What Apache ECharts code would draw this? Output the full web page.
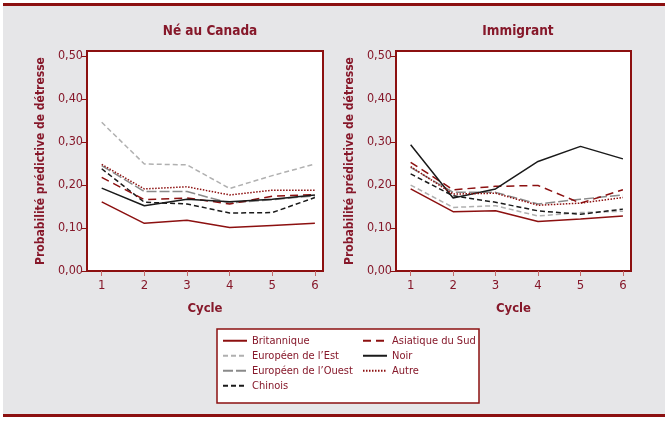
<!DOCTYPE html>
<html>
<head>
<meta charset="utf-8">
<script src="https://cdn.jsdelivr.net/npm/echarts@6/dist/echarts.min.js"></script>
<style>
  html, body { margin: 0; padding: 0; background: #fff; }
  #chart { width: 665px; height: 422px; }
</style>
</head>
<body>
<div id="chart"></div>
<script>
// cycles 1..6
const cycles = [1, 2, 3, 4, 5, 6];
const yTicks = [0, 0.1, 0.2, 0.3, 0.4, 0.5];

// Né au Canada
const canBritannique = [0.161, 0.111, 0.118, 0.101, 0.106, 0.111];
const canEuropeEst = [0.346, 0.249, 0.247, 0.192, 0.222, 0.249];
const canEuropeOuest = [0.245, 0.185, 0.185, 0.158, 0.166, 0.175];
const canChinois = [0.238, 0.160, 0.156, 0.135, 0.136, 0.171];
const canAsieSud = [0.218, 0.166, 0.170, 0.156, 0.174, 0.178];
const canNoir = [0.193, 0.152, 0.167, 0.161, 0.167, 0.177];
const canAutre = [0.248, 0.191, 0.196, 0.177, 0.188, 0.188];

// Immigrant
const immBritannique = [0.191, 0.138, 0.140, 0.115, 0.121, 0.128];
const immEuropeEst = [0.200, 0.148, 0.152, 0.128, 0.136, 0.139];
const immEuropeOuest = [0.241, 0.183, 0.183, 0.156, 0.167, 0.177];
const immChinois = [0.226, 0.175, 0.160, 0.140, 0.132, 0.144];
const immAsieSud = [0.253, 0.189, 0.197, 0.199, 0.158, 0.189];
const immNoir = [0.294, 0.170, 0.191, 0.255, 0.290, 0.261];
const immAutre = [0.243, 0.179, 0.181, 0.153, 0.158, 0.171];

const names = ['Britannique', 'Européen de l’Est', 'Européen de l’Ouest', 'Chinois',
  'Asiatique du Sud', 'Noir', 'Autre'];

const RED = '#8c1010';
const TXT = '#86182a';
const FONT = '"DejaVu Sans Condensed", "Liberation Sans Narrow", sans-serif';

const styles = {
  'Britannique': {color: RED, type: 'solid'},
  'Européen de l’Est': {color: '#b0b0b0', type: [5, 3]},
  'Européen de l’Ouest': {color: '#8a8a8a', type: [10, 3]},
  'Chinois': {color: '#1a1a1a', type: [5, 3]},
  'Asiatique du Sud': {color: RED, type: [8, 5]},
  'Noir': {color: '#1a1a1a', type: 'solid'},
  'Autre': {color: RED, type: [1.5, 1.5]}
};

const canData = [canBritannique, canEuropeEst, canEuropeOuest, canChinois, canAsieSud, canNoir, canAutre];
const immData = [immBritannique, immEuropeEst, immEuropeOuest, immChinois, immAsieSud, immNoir, immAutre];

function makeSeries(data, idx) {
  return names.map((n, i) => ({
    name: n,
    type: 'line',
    xAxisIndex: idx,
    yAxisIndex: idx,
    symbol: 'none',
    silent: true,
    data: cycles.map((c, k) => [c, data[i][k]]),
    itemStyle: {color: styles[n].color},
    lineStyle: {color: styles[n].color, type: styles[n].type, width: 1.5}
  }));
}

function xAxis(idx) {
  return {
    type: 'value', gridIndex: idx, min: 0.655, max: 6.19,
    name: 'Cycle', nameLocation: 'middle', nameGap: 31,
    nameTextStyle: {color: TXT, fontFamily: FONT, fontWeight: 'bold', fontSize: 13},
    axisLine: {lineStyle: {color: RED, width: 2}},
    axisTick: {customValues: cycles, length: 5, lineStyle: {color: '#c46a6a', width: 1}},
    axisLabel: {customValues: cycles, color: TXT, fontFamily: FONT, fontSize: 13, margin: 8},
    splitLine: {show: false}
  };
}

function yAxis(idx) {
  return {
    type: 'value', gridIndex: idx, min: 0, max: 0.512,
    name: 'Probabilité prédictive de détresse', nameLocation: 'middle', nameGap: 40,
    nameRotate: 90,
    nameTextStyle: {color: TXT, fontFamily: FONT, fontWeight: 'bold', fontSize: 12},
    axisLine: {show: true, lineStyle: {color: RED, width: 2}},
    axisTick: {customValues: yTicks, length: 6, lineStyle: {color: RED, width: 1}},
    axisLabel: {customValues: yTicks, color: TXT, fontFamily: FONT, fontSize: 12.5, margin: 4,
      formatter: v => v.toFixed(2).replace('.', ',')},
    splitLine: {show: false}
  };
}

const legendBase = {
  orient: 'vertical', top: 334, padding: 0, itemWidth: 24, itemHeight: 10, itemGap: 1.5,
  selectedMode: false, itemStyle: {opacity: 0},
  textStyle: {color: TXT, fontFamily: FONT, fontSize: 11, lineHeight: 13.5}
};

const chart = echarts.init(document.getElementById('chart'));

chart.setOption({
  animation: false,
  backgroundColor: '#fff',
  graphic: [
    {type: 'rect', z: -10, shape: {x: 3, y: 5, width: 662, height: 410}, style: {fill: '#e6e6e8'}},
    {type: 'rect', z: -9, shape: {x: 3, y: 3, width: 662, height: 3}, style: {fill: RED}},
    {type: 'rect', z: -9, shape: {x: 3, y: 414, width: 662, height: 3}, style: {fill: RED}},
    {type: 'rect', z: -8, shape: {x: 217, y: 329, width: 262, height: 74},
      style: {fill: '#fff', stroke: RED, lineWidth: 1.5}}
  ],
  title: [
    {text: 'Né au Canada', left: 205, top: 19, textAlign: 'center',
      textStyle: {color: TXT, fontFamily: FONT, fontWeight: 'bold', fontSize: 13.5}},
    {text: 'Immigrant', left: 513, top: 19, textAlign: 'center',
      textStyle: {color: TXT, fontFamily: FONT, fontWeight: 'bold', fontSize: 13.5}}
  ],
  legend: [
    Object.assign({data: names.slice(0, 4), left: 222}, legendBase),
    Object.assign({data: names.slice(4), left: 362}, legendBase)
  ],
  grid: [
    {left: 87, top: 51, width: 236, height: 220, show: true, backgroundColor: '#fff',
      borderColor: RED, borderWidth: 2},
    {left: 396, top: 51, width: 235, height: 220, show: true, backgroundColor: '#fff',
      borderColor: RED, borderWidth: 2}
  ],
  xAxis: [xAxis(0), xAxis(1)],
  yAxis: [yAxis(0), yAxis(1)],
  series: makeSeries(canData, 0).concat(makeSeries(immData, 1))
});
</script>
</body>
</html>
